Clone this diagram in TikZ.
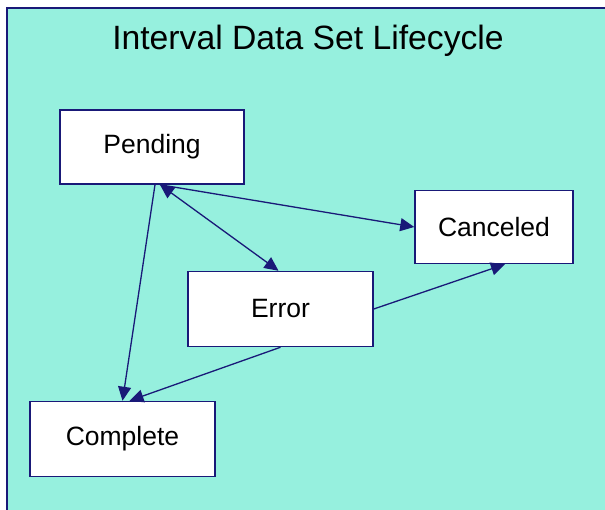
\documentclass[tikz,border=0pt]{standalone}
\usepackage{fontspec}
\setmainfont{Liberation Sans}
\usetikzlibrary{arrows.meta,calc}
\definecolor{bgc}{RGB}{150,240,222}
\definecolor{navy}{RGB}{25,25,120}
\begin{document}
\begin{tikzpicture}[x=1pt,y=-1pt,
  statebox/.style={draw=navy,line width=1.5pt,fill=white,inner sep=0pt,font=\fontsize{26.5}{30}\selectfont},
  conn/.style={draw=navy,line width=1.3pt,-{Triangle[length=14pt,width=13pt]}},
  bconn/.style={draw=navy,line width=1.3pt,{Triangle[length=14pt,width=13pt]}-{Triangle[length=14pt,width=13pt]}}]
\useasboundingbox (0,0) rectangle (605,510);
\clip (0,0) rectangle (605,510);
\fill[white] (0,0) rectangle (605,510);
\draw[navy,line width=1.5pt,fill=bgc] (7,8) rectangle (640,540);
\node[font=\fontsize{33.7}{40}\selectfont] (title) at (308,41) {Interval Data Set Lifecycle};
\node[statebox,minimum width=184pt,minimum height=74pt] (P) at (152,147) {Pending};
\node[statebox,minimum width=158pt,minimum height=73pt] (C) at (494,227) {Canceled};
\node[statebox,minimum width=185pt,minimum height=75pt] (E) at (280.5,309) {Error};
\node[statebox,minimum width=185pt,minimum height=75pt] (M) at (122.5,439) {Complete};
\draw[conn] ([xshift=8pt]P.south) -- (C.west);
\draw[bconn] ([xshift=8pt]P.south) -- ([xshift=-2pt]E.north);
\draw[conn] ([xshift=3pt]P.south) -- (M.north);
\draw[conn] (E.south) -- ([xshift=7pt]M.north);
\draw[conn] (E.east) -- ([xshift=11pt]C.south);
\end{tikzpicture}
\end{document}
